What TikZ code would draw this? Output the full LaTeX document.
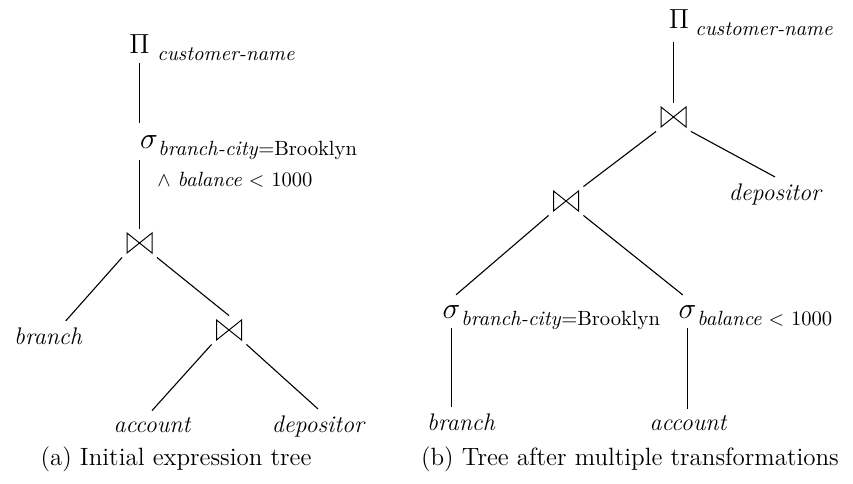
\documentclass[tikz,border=0pt]{standalone}
\usepackage{fontspec}
\usetikzlibrary{positioning}

\newcommand{\projop}{\scalebox{1.15}{$\Pi$}}
\newcommand{\selop}{\scalebox{1.25}{$\sigma$}}

\tikzset{
    sym/.style={font=\fontsize{12.5}{15}\selectfont, inner sep=3pt, anchor=base},
    sub/.style={font=\fontsize{10.3}{12}\selectfont, inner sep=0pt, anchor=base west},
    rel/.style={font=\fontsize{12}{14}\selectfont\itshape, inner sep=3pt, anchor=base},
    joinop/.style={minimum width=17pt, minimum height=14pt, inner sep=0pt,
        path picture={\draw[line width=0.5pt]
            ([shift={(-6.25pt,5pt)}]path picture bounding box.center) --
            ([shift={(6.25pt,-5pt)}]path picture bounding box.center) --
            ([shift={(6.25pt,5pt)}]path picture bounding box.center) --
            ([shift={(-6.25pt,-5pt)}]path picture bounding box.center) -- cycle;}},
    caption/.style={font=\fontsize{12.5}{15}\selectfont, anchor=base},
    link/.style={line width=0.55pt}
}

\begin{document}
\begin{tikzpicture}[x=0.5pt, y=-0.5pt]
\useasboundingbox (0,0) rectangle (853,483);

% (a) initial tree
\node[sym] (pi1) at (139.5,53) {\projop};
\node[sub] (pisub1) at (157,60) {\textit{customer-name}};
\node[sym] (sig1) at (149,148) {\selop};
\node[sub] (sigsub1) at (158,155) {\textit{branch-city}=Brooklyn};
\node[sub] (sigsub1b) at (157,186) {$\wedge$ \textit{balance} $<$ 1000};
\node[joinop] (join1) at (139.5,243) {};
\node[rel] (branch1) at (48,344) {branch};
\node[joinop] (join2) at (229,330) {};
\node[rel] (account1) at (152,432) {account};
\node[rel] (depositor1) at (318,432) {depositor};
\node[caption] (capa) at (176,465) {(a) Initial expression tree};

\draw[link, shorten <=2pt, shorten >=3pt] (pi1) -- (pi1 |- sig1.north);
\draw[link, shorten >=3pt] (join1) -- (join1 |- sig1.south);
\draw[link] (join1.south west) -- (branch1.40);
\draw[link] (join1.south east) -- (join2.north);
\draw[link] (join2.south west) -- (account1.north);
\draw[link] (join2.south east) -- (depositor1.north);

% (b) transformed tree
\node[sym] (pi2) at (679,28) {\projop};
\node[sub] (pisub2) at (695,35) {\textit{customer-name}};
\node[joinop] (join3) at (673.5,117) {};
\node[rel] (depositor2) at (775,200) {depositor};
\node[joinop] (join4) at (566,201) {};
\node[sym] (sig2) at (451.5,318) {\selop};
\node[sub] (sigsub2) at (461,325) {\textit{branch-city}=Brooklyn};
\node[sym] (sig3) at (687.5,318) {\selop};
\node[sub] (sigsub3) at (697,325) {\textit{balance} $<$ 1000};
\node[rel] (branch2) at (461,430) {branch};
\node[rel] (account2) at (688,430) {account};
\node[caption] (capb) at (630,465) {(b) Tree after multiple transformations};

\draw[link, shorten >=4pt] (join3) -- (join3 |- pi2.south);
\draw[link] (join3.south west) -- (join4.north east);
\draw[link] (join3.south east) -- (depositor2.north);
\draw[link, shorten >=3pt] (join4.south west) -- (sig2.north);
\draw[link, shorten >=3pt] (join4.south east) -- (sig3.north);
\draw[link, shorten <=2pt] (sig2) -- (sig2 |- branch2.north);
\draw[link, shorten <=2pt] (sig3) -- (sig3 |- account2.north);

\end{tikzpicture}
\end{document}
